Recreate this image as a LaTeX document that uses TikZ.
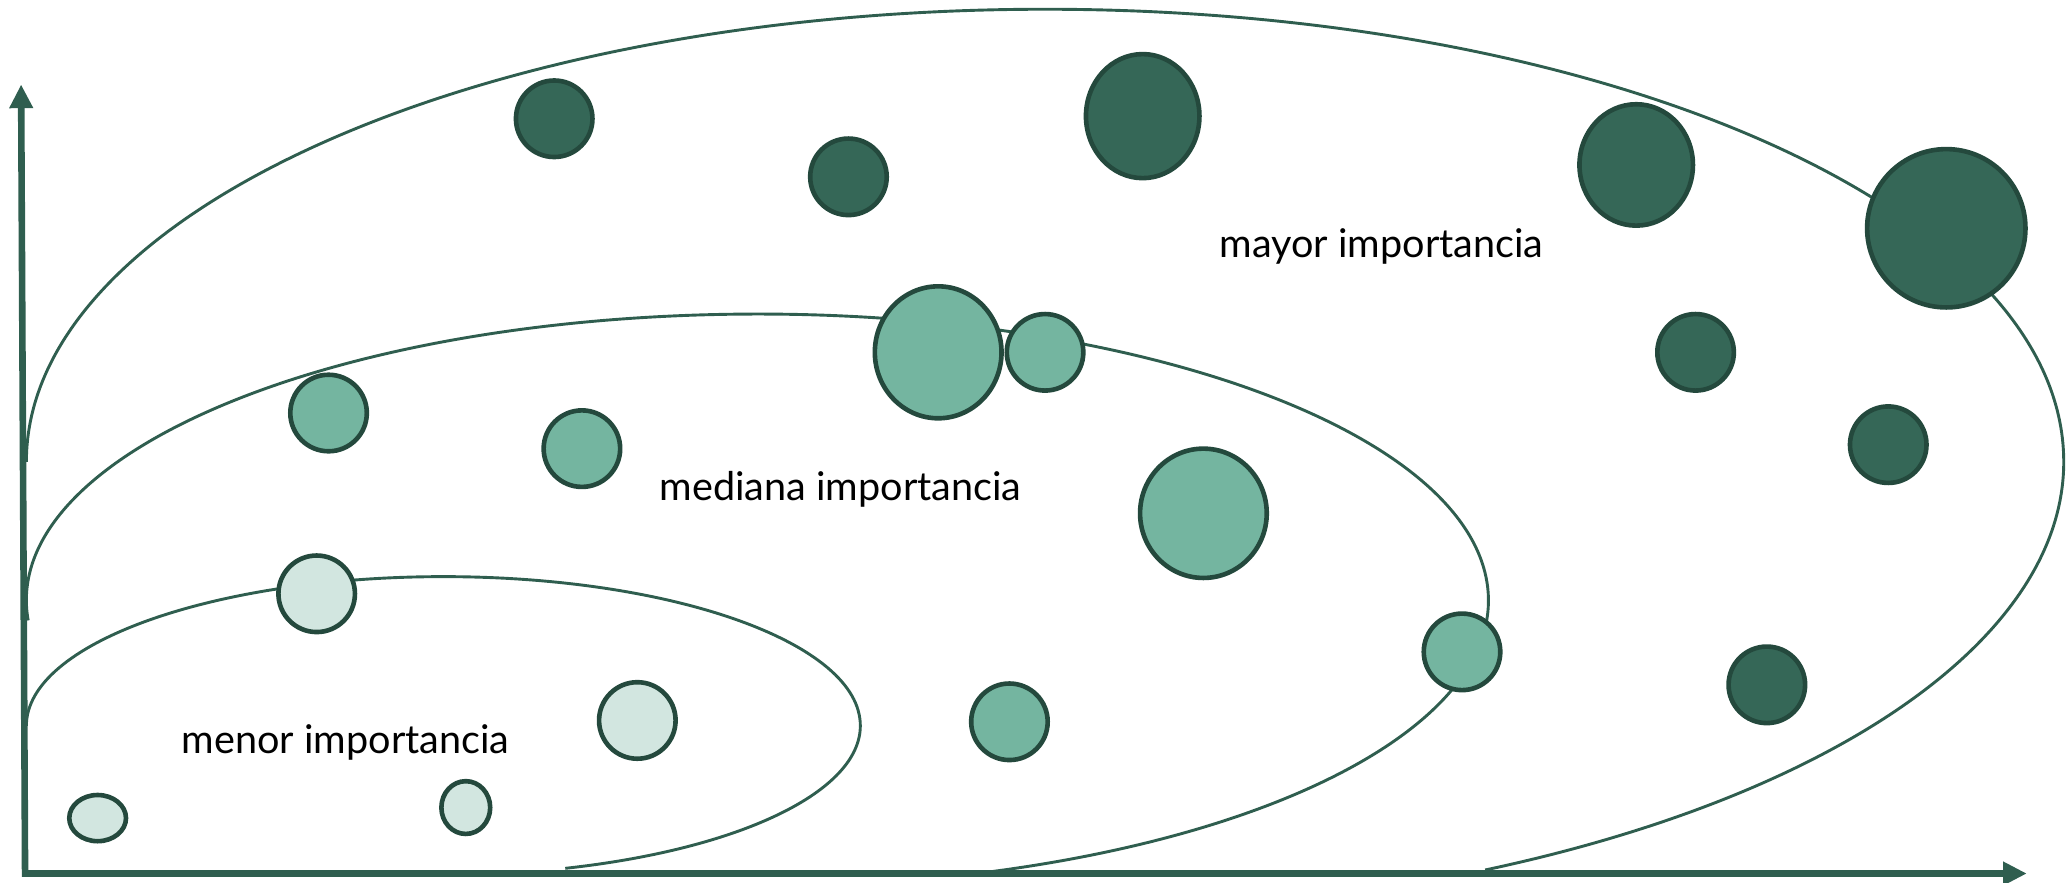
\documentclass[tikz,border=0pt]{standalone}
\usepackage{fontspec}
\setmainfont{Lato}
\usetikzlibrary{arrows.meta,shapes.geometric}
\definecolor{verdeosc}{HTML}{356757}
\definecolor{verdeborde}{HTML}{24493D}
\definecolor{verdemed}{HTML}{74B5A0}
\definecolor{verdeclaro}{HTML}{D2E6E0}
\definecolor{linea}{HTML}{2F5E4F}

\begin{document}
\begin{tikzpicture}[x=1pt, y=-1pt,
            b/.style={ellipse,draw=verdeborde,line width=3.5pt,inner sep=0pt,minimum width=58pt,minimum height=58pt},
            oscuro/.style={b,fill=verdeosc},
            medio/.style={b,fill=verdemed},
            claro/.style={b,fill=verdeclaro},
            curva/.style={draw=linea,line width=2.2pt},
            eje/.style={draw=linea,line width=5pt,line join=miter},
            txt/.style={font=\fontsize{30}{33}\selectfont}]
            \useasboundingbox (0,0) rectangle (1568,669);

            \coordinate (ytop) at (16,64);
            \coordinate (o) at (19,662);
            \coordinate (xend) at (1536,662);

            \draw[curva] (792,350) ++(180:772 and 343) arc[start angle=180, end angle=424.4, x radius=772, y radius=343];
            \draw[curva] (574,455) ++(176:554 and 217) arc[start angle=176, end angle=432.5, x radius=554, y radius=217];
            \draw[curva] (336,550) ++(180:316 and 113) arc[start angle=180, end angle=433, x radius=316, y radius=113];

            \draw[eje, {Triangle[length=18pt,width=17pt]}-{Triangle[length=18pt,width=17pt]}] (ytop) -- (o) -- (xend);

            \node[oscuro] (d1) at (420,90) {};
            \node[oscuro] (d2) at (643,134) {};
            \node[oscuro,minimum width=86pt,minimum height=94pt] (d3) at (866,88) {};
            \node[oscuro,minimum width=86pt,minimum height=92pt] (d4) at (1240,125) {};
            \node[oscuro,minimum width=120pt,minimum height=120pt] (d5) at (1475,173) {};
            \node[oscuro] (d6) at (1285,267) {};
            \node[oscuro] (d7) at (1431,337) {};
            \node[oscuro] (d8) at (1339,519) {};

            \node[medio] (m1) at (249,313) {};
            \node[medio] (m2) at (441,340) {};
            \node[medio,minimum width=96pt,minimum height=100pt] (m3) at (711,267) {};
            \node[medio] (m4) at (792,267) {};
            \node[medio,minimum width=96pt,minimum height=98pt] (m5) at (912,389) {};
            \node[medio] (m6) at (1108,494) {};
            \node[medio] (m7) at (765,547) {};

            \node[claro] (c1) at (240,450) {};
            \node[claro] (c2) at (483,546) {};
            \node[claro,minimum width=37pt,minimum height=40pt] (c3) at (353,612) {};
            \node[claro,minimum width=43pt,minimum height=35pt] (c4) at (74,620) {};

            \node[txt] (t1) at (1047,187) {mayor importancia};
            \node[txt] (t2) at (637,371) {mediana importancia};
            \node[txt] (t3) at (262,563) {menor importancia};
        \end{tikzpicture}
\end{document}
